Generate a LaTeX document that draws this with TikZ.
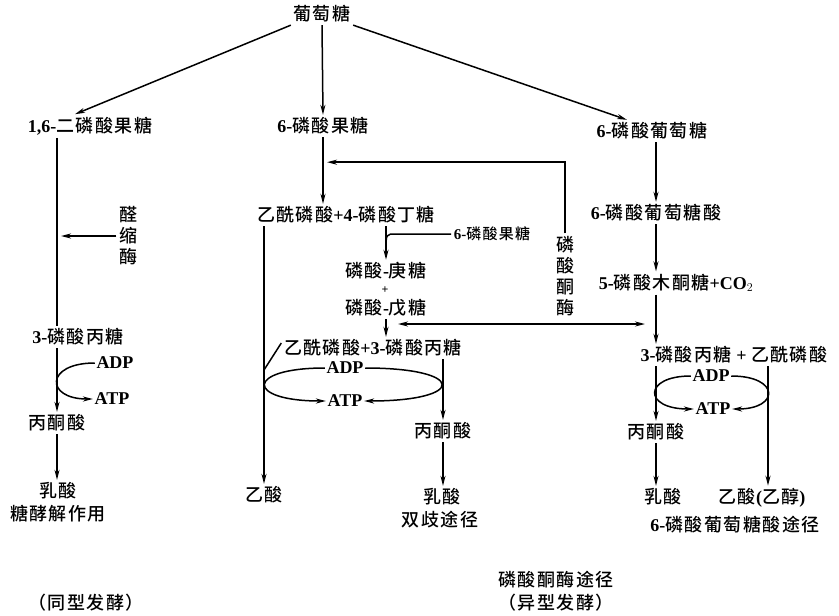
\documentclass[tikz,border=0pt]{standalone}
\usepackage{fontspec}
\setmainfont{Liberation Serif}[UprightFont=*-Bold]
\newfontfamily\cjk{Noto Sans CJK SC}[UprightFont=* Medium,LetterSpace=8]
\newcommand\zh[1]{{\cjk #1}}
\usetikzlibrary{arrows.meta,calc}

\begin{document}
\begin{tikzpicture}[x=1pt, y=-1pt, line width=1.5pt,
	>={Stealth[length=10pt,width=5pt]},
	txt/.style={inner sep=2pt, font=\fontsize{18}{20}\selectfont},
	lat/.style={inner sep=1pt, font=\fontsize{18}{20}\selectfont},
	small/.style={inner sep=2pt, font=\fontsize{15}{17}\selectfont},
	vtxt/.style={txt, align=center, font=\fontsize{18}{21}\selectfont},
	arr/.style={->},
	]
	
	\useasboundingbox (0,0) rectangle (839,616);
	
	%% ── Glucosio e primi prodotti ────────────────────────────────────────────
	\node[txt] (glc) at (322,14) {\zh{葡萄糖}};
	\node[txt] (fbp) at (90,126) {1,6-\zh{二磷酸果糖}};
	\node[txt] (f6p) at (323,126) {6-\zh{磷酸果糖}};
	\node[txt] (g6p) at (652,131) {6-\zh{磷酸葡萄糖}};
	
	\draw[arr] (glc.south west) -- ($(fbp.north)+(-15,0)$);
	\draw[arr] (glc.south) -- (f6p.north);
	\draw[arr] (glc.south east) -- ($(g6p.north)+(-25,0)$);
	
	%% ── Via glicolitica (omofermentazione) ───────────────────────────────────
	\node[vtxt] (ald) at (128,236) {\zh{醛}\\\zh{缩}\\\zh{酶}};
	\node[txt] (tp1) at (78,337) {3-\zh{磷酸丙糖}};
	\node[lat] (adp1) at (115,363) {ADP};
	\node[lat] (atp1) at (112,399) {ATP};
	\node[txt] (pyr1) at (57,423) {\zh{丙酮酸}};
	\node[txt] (lac1) at (58,491) {\zh{乳酸}};
	\node[txt] (gly) at (58,514) {\zh{糖酵解作用}};
	\node[txt] (homo) at (86,603) {\zh{（同型发酵）}};
	
	\draw (fbp.south -| pyr1) -- (tp1.north -| pyr1);
	\draw[arr] (ald.west) -- ($(ald.west -| pyr1)+(4,0)$);
	\draw[arr] (tp1.south -| pyr1) -- (pyr1.north);
	\draw[arr] (adp1.west) .. controls (45,363) and (45,399) .. (atp1.west);
	\draw[arr] (pyr1.south) -- (lac1.north -| pyr1);
	
	%% ── Via della fosfochetolasi (bifidobatteri) ─────────────────────────────
	\node[txt] (acp) at (346,215) {\zh{乙酰磷酸}+4-\zh{磷酸丁糖}};
	\node[small] (f6ps) at (492,234) {6-\zh{磷酸果糖}};
	\node[txt] (hep) at (386,271) {\zh{磷酸}-\zh{庚糖}};
	\node[inner sep=0pt, font=\fontsize{12}{12}\selectfont] (plus) at (385,290) {+};
	\node[txt] (pen) at (386,308) {\zh{磷酸}-\zh{戊糖}};
	\node[vtxt] (pk) at (565,276) {\zh{磷}\\\zh{酸}\\\zh{酮}\\\zh{酶}};
	\node[txt] (tp2) at (373,348) {\zh{乙酰磷酸}+3-\zh{磷酸丙糖}};
	\node[lat] (adp2) at (345,368) {ADP};
	\node[lat] (atp2) at (345,401) {ATP};
	\node[txt] (pyr2) at (443,431) {\zh{丙酮酸}};
	\node[txt] (ace2) at (264,495) {\zh{乙酸}};
	\node[txt] (lac2) at (442,497) {\zh{乳酸}};
	\node[txt] (bif) at (440,520) {\zh{双歧途径}};
	\node[txt] (pkp) at (556,580) {\zh{磷酸酮酶途径}};
	\node[txt] (hetero) at (556,603) {\zh{（异型发酵）}};
	
	\draw[arr] (f6p.south) -- (f6p.south |- acp.north);
	\draw[arr] (pk.north) |- ($(f6p.south)+(4,25)$);
	\draw[arr] (acp.south -| hep) -- (hep.north);
	\draw (f6ps.west) -- ($(hep.north |- f6ps.west)+(10,0)$)
		.. controls (hep.north |- f6ps.west) .. ($(hep.north)+(0,-10)$);
	\draw[arr] (pen.south) -- (pen.south |- tp2.north);
	\draw[arr] (acp.south -| ace2) -- (ace2.north);
	\draw ($(tp2.west)+(0,-5)$) -- ($(ace2 |- adp2)+(0,2)$);
	\draw[arr] (adp2.west) .. controls (245,368) and (245,401) .. (atp2.west);
	\draw[arr] (adp2.east) .. controls (467,368) and (467,401) .. (atp2.east);
	\draw[arr] (tp2.south -| pyr2) -- (pyr2.north);
	\draw[arr] (pyr2.south) -- (pyr2.south |- lac2.north);
	
	%% ── Scambio tra le due vie ───────────────────────────────────────────────
	\coordinate (dl) at (398,324);
	\coordinate (dr) at (645,324);
	\draw[<->] (dl) -- (dr);
	
	%% ── Via del 6-fosfogluconato ─────────────────────────────────────────────
	\node[txt] (g6pa) at (656,213) {6-\zh{磷酸葡萄糖酸}};
	\node[txt] (xu5p) at (676,283) {5-\zh{磷酸木酮糖}+CO$_2$};
	\node[txt] (tp3) at (734,355) {3-\zh{磷酸丙糖} + \zh{乙酰磷酸}};
	\node[lat] (adp3) at (711,376) {ADP};
	\node[lat] (atp3) at (713,409) {ATP};
	\node[txt] (pyr3) at (656,432) {\zh{丙酮酸}};
	\node[txt] (lac3) at (663,497) {\zh{乳酸}};
	\node[txt] (ace3) at (762,498) {\zh{乙酸}(\zh{乙醇})};
	\node[txt] (pgp) at (735,525) {6-\zh{磷酸葡萄糖酸途径}};
	
	\draw[arr] (g6p.south -| g6pa) -- (g6pa.north);
	\draw[arr] (g6pa.south) -- (xu5p.north -| g6pa);
	\draw[arr] (xu5p.south -| g6pa) -- (tp3.north -| g6pa);
	\draw[arr] (tp3.south -| pyr3) -- (pyr3.north);
	\coordinate (r3) at ($(ace3.north)+(6,0)$);
	\draw[arr] (tp3.south -| r3) -- (r3);
	\draw[arr] (adp3.west) .. controls (643,376) and (643,409) .. (atp3.west);
	\draw[arr] (adp3.east) .. controls (780,376) and (780,409) .. (atp3.east);
	\draw[arr] (pyr3.south) -- (lac3.north -| pyr3);
	
\end{tikzpicture}
\end{document}
